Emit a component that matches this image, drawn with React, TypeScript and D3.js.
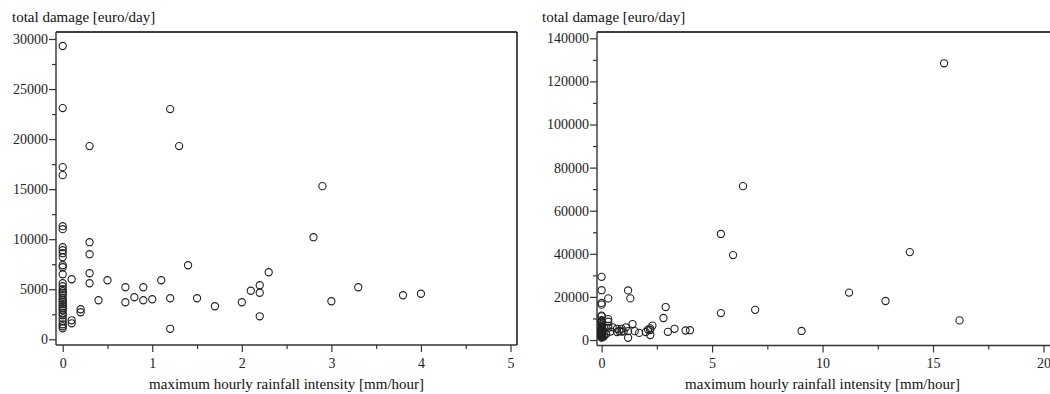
import React, { useEffect, useRef } from 'react';
import * as d3 from 'd3';

// left panel: events with intensity <= 5 mm/hour
const lowIntensity = [
  0, 0, 0, 0, 0, 0, 0, 0, 0, 0, 0, 0, 0, 0, 0, 0, 0, 0, 0, 0, 0, 0, 0, 0, 0, 0, 0, 0, 0, 0, 0, 0, 0,
  0.1, 0.1, 0.1, 0.2, 0.2, 0.3, 0.3, 0.3, 0.3, 0.3, 0.4, 0.5, 0.7, 0.7, 0.8, 0.9, 0.9, 1.0, 1.1,
  1.2, 1.2, 1.2, 1.3, 1.4, 1.5, 1.7, 2.0, 2.1, 2.2, 2.2, 2.2, 2.3, 2.8, 2.9, 3.0, 3.3, 3.8, 4.0,
];
const lowDamage = [
  29300, 23100, 17200, 16400, 11300, 11000, 9200, 8900, 8600, 8200, 7400, 7200, 6500, 5600, 5300,
  5000, 4800, 4600, 4400, 4100, 3900, 3700, 3500, 3300, 3100, 2900, 2600, 2400, 2100, 1800, 1500,
  1300, 1100,
  6000, 1900, 1600, 3000, 2700, 19300, 9700, 8500, 6600, 5600, 3900, 5900, 5200, 3700, 4200, 5200,
  3900, 4000, 5900, 23000, 4100, 1050, 19300, 7400, 4100, 3300, 3700, 4850, 5400, 4650, 2300, 6700,
  10200, 15300, 3800, 5200, 4400, 4550,
];

// extra events only shown in the right panel
const highIntensity = [5.4, 5.4, 5.95, 6.4, 6.95, 9.05, 11.2, 12.85, 13.95, 15.5, 16.2];
const highDamage = [49200, 12500, 39400, 71400, 14000, 4200, 22000, 18100, 40800, 128400, 9100];

const leftXTicks = [0, 1, 2, 3, 4, 5];
const leftYTicks = [0, 5000, 10000, 15000, 20000, 25000, 30000];
const rightXTicks = [0, 5, 10, 15, 20];
const rightYTicks = [0, 20000, 40000, 60000, 80000, 100000, 120000, 140000];

const yTitle = 'total damage [euro/day]';
const xTitle = 'maximum hourly rainfall intensity [mm/hour]';

const FONT = 'Liberation Serif, DejaVu Serif, Noto Serif, serif';

const mid = (ticks: number[]) => ticks.slice(1).map((t, i) => (t + ticks[i]) / 2);

function drawPanel(svg, opts) {
  const { xs, ys, xTicks, yTicks, axisX, frameRight, top, bottom, xRange, yRange, titleX } = opts;
  const g = svg.append('g');
  const x = d3.scaleLinear().domain([xTicks[0], xTicks[xTicks.length - 1]]).range(xRange);
  const y = d3.scaleLinear().domain([yTicks[0], yTicks[yTicks.length - 1]]).range(yRange);

  // frame
  g.append('line').attr('x1', axisX).attr('x2', frameRight).attr('y1', top).attr('y2', top)
    .attr('stroke', '#000').attr('stroke-width', 1.4);
  g.append('line').attr('x1', frameRight).attr('x2', frameRight).attr('y1', top).attr('y2', bottom)
    .attr('stroke', '#000').attr('stroke-width', 1.4);

  const yAxis = g.append('g').attr('transform', `translate(${axisX},0)`)
    .call(d3.axisLeft(y).tickValues(yTicks).tickSize(7).tickPadding(1).tickFormat(d3.format('d')));
  g.append('g').attr('transform', `translate(${axisX},0)`)
    .call(d3.axisLeft(y).tickValues(mid(yTicks)).tickSize(4).tickFormat(() => ''))
    .select('.domain').remove();

  const xAxis = g.append('g').attr('transform', `translate(0,${bottom})`)
    .call(d3.axisBottom(x).tickValues(xTicks).tickSize(7).tickPadding(6).tickFormat(d3.format('d')));
  g.append('g').attr('transform', `translate(0,${bottom})`)
    .call(d3.axisBottom(x).tickValues(mid(xTicks)).tickSize(4).tickFormat(() => ''))
    .select('.domain').remove();

  // axis lines span the whole frame
  yAxis.select('.domain').attr('d', `M0,${top}V${bottom}`);
  xAxis.select('.domain').attr('d', `M${axisX},0H${frameRight}`);

  g.selectAll('.domain').attr('stroke', '#333').attr('stroke-width', 1.4);
  g.selectAll('.tick line').attr('stroke', '#333').attr('stroke-width', 1.2);
  g.selectAll('g').attr('font-family', FONT).attr('font-size', 14);
  g.selectAll('.tick text').attr('fill', '#222');

  g.append('text').attr('x', titleX).attr('y', 22).text(yTitle)
    .attr('font-family', FONT).attr('font-size', 15).attr('fill', '#111');
  g.append('text').attr('x', (xRange[0] + xRange[1]) / 2).attr('y', 389)
    .attr('text-anchor', 'middle').text(xTitle)
    .attr('font-family', FONT).attr('font-size', 15).attr('fill', '#111');

  g.append('g').selectAll('circle').data(xs.map((v, i) => [v, ys[i]])).enter()
    .append('circle')
    .attr('cx', d => x(d[0]))
    .attr('cy', d => y(d[1]))
    .attr('r', 3.6)
    .attr('fill', 'none')
    .attr('stroke', '#222')
    .attr('stroke-width', 1.1);
}

export default function App() {
  const ref = useRef(null);

  useEffect(() => {
    const svg = d3.select(ref.current);
    svg.selectAll('*').remove();

    drawPanel(svg, {
      xs: lowIntensity, ys: lowDamage, xTicks: leftXTicks, yTicks: leftYTicks,
      axisX: 56, frameRight: 517, top: 32, bottom: 345,
      xRange: [62.7, 510.5], yRange: [339.3, 39], titleX: 12,
    });
    drawPanel(svg, {
      xs: lowIntensity.concat(highIntensity), ys: lowDamage.concat(highDamage),
      xTicks: rightXTicks, yTicks: rightYTicks,
      axisX: 597, frameRight: 1052, top: 32, bottom: 345.5,
      xRange: [601.6, 1043.5], yRange: [340, 38.3], titleX: 542,
    });
  }, []);

  return (
    <svg ref={ref} width={1050} height={394}
      style={{ position: 'absolute', left: 0, top: 0, background: '#fff' }} />
  );
}
